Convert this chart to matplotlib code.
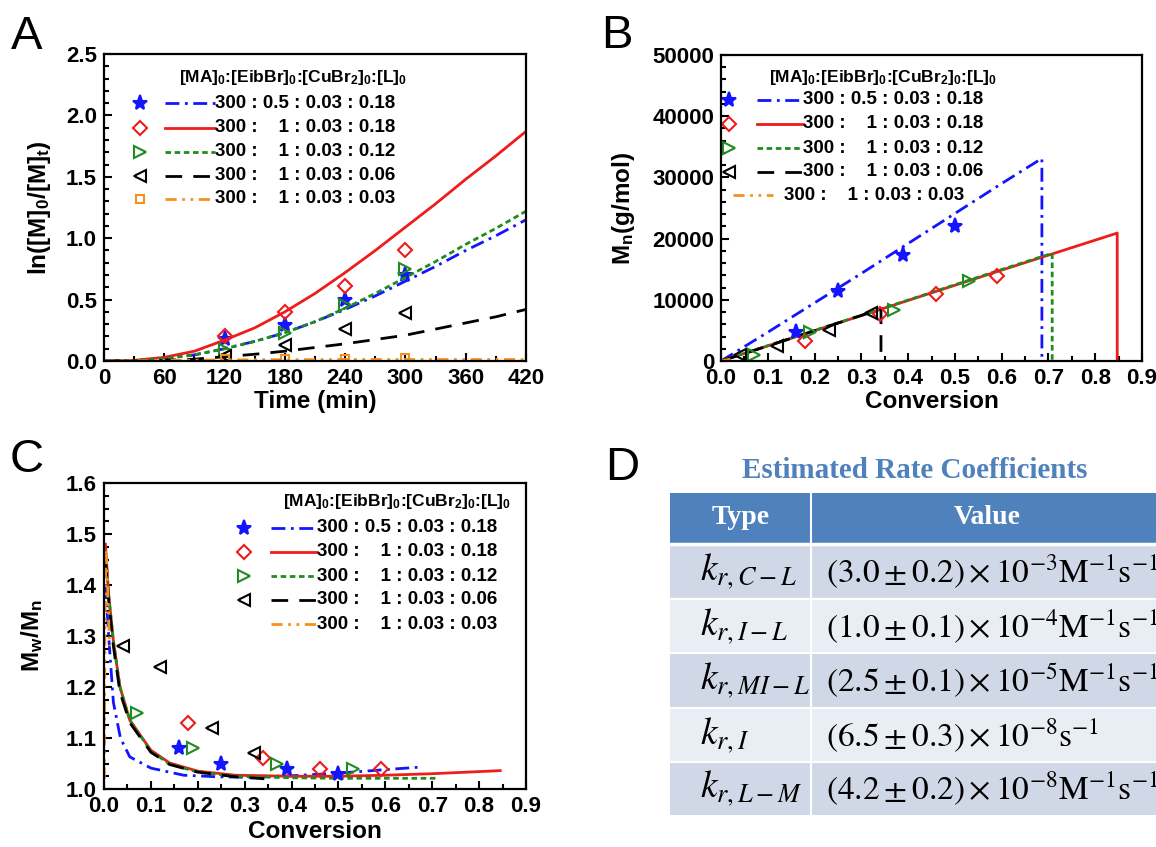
import matplotlib
matplotlib.use('Agg')
import matplotlib.pyplot as plt
from matplotlib.patches import Rectangle
from matplotlib.ticker import MultipleLocator

plt.rcParams['font.family'] = ['Liberation Sans', 'DejaVu Sans']
plt.rcParams['font.weight'] = 'normal'
plt.rcParams['axes.labelweight'] = 'bold'
plt.rcParams['mathtext.fontset'] = 'custom'
plt.rcParams['mathtext.rm'] = 'Liberation Sans:bold'
plt.rcParams['mathtext.it'] = 'Liberation Sans:bold'
plt.rcParams['mathtext.bf'] = 'Liberation Sans:bold'
plt.rcParams['axes.linewidth'] = 1.6

# ---- data ----
ratio_labels = ['300 : 0.5 : 0.03 : 0.18', '300 :    1 : 0.03 : 0.18',
                '300 :    1 : 0.03 : 0.12', '300 :    1 : 0.03 : 0.06',
                '300 :    1 : 0.03 : 0.03']
legend_title = r'[MA]$_0$:[EibBr]$_0$:[CuBr$_2$]$_0$:[L]$_0$'

# panel A: ln([M]0/[M]t) vs time
t_exp = [120, 180, 240, 300]
lnA_exp = [
    [0.18, 0.29, 0.50, 0.70],
    [0.20, 0.40, 0.61, 0.90],
    [0.09, 0.23, 0.46, 0.75],
    [0.04, 0.13, 0.26, 0.39],
    [0.02, 0.02, 0.02, 0.025],
]
t_fit = [0, 30, 60, 90, 120, 150, 180, 210, 240, 270, 300, 330, 360, 390, 420]
lnA_fit = [
    [0, 0.003, 0.02, 0.05, 0.10, 0.16, 0.23, 0.32, 0.42, 0.53, 0.65, 0.77, 0.90, 1.02, 1.15],
    [0, 0.005, 0.03, 0.08, 0.17, 0.27, 0.40, 0.55, 0.72, 0.90, 1.09, 1.28, 1.48, 1.67, 1.87],
    [0, 0.003, 0.02, 0.05, 0.10, 0.16, 0.23, 0.32, 0.43, 0.55, 0.68, 0.81, 0.95, 1.08, 1.22],
    [0, 0.0, 0.005, 0.015, 0.035, 0.055, 0.08, 0.11, 0.14, 0.175, 0.21, 0.26, 0.31, 0.36, 0.42],
    [0, 0.002, 0.005, 0.007, 0.009, 0.010, 0.011, 0.011, 0.012, 0.012, 0.012, 0.012, 0.012, 0.012, 0.012],
]

# panel B: Mn vs conversion
convB_exp = [
    [0.16, 0.25, 0.39, 0.50],
    [0.18, 0.34, 0.46, 0.59],
    [0.07, 0.19, 0.37, 0.53],
    [0.04, 0.12, 0.23, 0.32],
]
Mn_exp = [
    [4800, 11400, 17400, 22000],
    [3200, 7600, 10900, 13900],
    [1000, 4800, 8400, 13000],
    [1000, 2400, 5100, 7900],
]
convB_fit = [
    [0, 0.1, 0.2, 0.3, 0.4, 0.5, 0.6, 0.686, 0.686],
    [0, 0.2, 0.4, 0.6, 0.847, 0.847],
    [0, 0.2, 0.4, 0.6, 0.708, 0.708],
    [0, 0.1, 0.2, 0.342, 0.342],
    [0, 0.01, 0.02],
]
Mn_fit = [
    [0, 4700, 9500, 14300, 19200, 24100, 29000, 33100, 0],
    [0, 4950, 9900, 14850, 20900, 0],
    [0, 5000, 9950, 14950, 17600, 0],
    [0, 2450, 4950, 8500, 0],
    [0, 150, 300],
]

# panel C: PDI vs conversion
PDI_exp = [
    [1.08, 1.05, 1.04, 1.03],
    [1.13, 1.06, 1.04, 1.04],
    [1.15, 1.08, 1.05, 1.04],
    [1.28, 1.24, 1.12, 1.07],
]
convC_fit = [
    [0.003, 0.01, 0.02, 0.035, 0.055, 0.1, 0.17, 0.24, 0.3, 0.4, 0.5, 0.6, 0.676],
    [0.003, 0.01, 0.02, 0.034, 0.055, 0.1, 0.14, 0.2, 0.28, 0.4, 0.5, 0.6, 0.7, 0.845],
    [0.003, 0.01, 0.02, 0.034, 0.055, 0.1, 0.14, 0.2, 0.28, 0.4, 0.5, 0.6, 0.71],
    [0.003, 0.01, 0.02, 0.034, 0.055, 0.1, 0.14, 0.2, 0.28, 0.342],
    [0.0005, 0.002, 0.004, 0.007, 0.010, 0.012],
]
PDI_fit = [
    [1.40, 1.30, 1.17, 1.10, 1.063, 1.041, 1.027, 1.024, 1.023, 1.026, 1.031, 1.038, 1.043],
    [1.48, 1.38, 1.29, 1.20, 1.135, 1.076, 1.051, 1.035, 1.027, 1.025, 1.025, 1.027, 1.030, 1.036],
    [1.47, 1.38, 1.29, 1.20, 1.135, 1.074, 1.049, 1.033, 1.025, 1.022, 1.021, 1.021, 1.021],
    [1.45, 1.37, 1.28, 1.19, 1.13, 1.072, 1.048, 1.033, 1.024, 1.020],
    [1.02, 1.30, 1.47, 1.42, 1.33, 1.28],
]

# panel D: table
table_title = 'Estimated Rate Coefficients'
table_header = ['Type', 'Value']
k_types = [r'$k_{r,C-L}$', r'$k_{r,I-L}$', r'$k_{r,MI-L}$', r'$k_{r,I}$', r'$k_{r,L-M}$']
k_values = [
    r'$\left(3.0\pm0.2\right)\times10^{-3}\mathrm{M}^{-1}\mathrm{s}^{-1}$',
    r'$\left(1.0\pm0.1\right)\times10^{-4}\mathrm{M}^{-1}\mathrm{s}^{-1}$',
    r'$\left(2.5\pm0.1\right)\times10^{-5}\mathrm{M}^{-1}\mathrm{s}^{-1}$',
    r'$\left(6.5\pm0.3\right)\times10^{-8}\mathrm{s}^{-1}$',
    r'$\left(4.2\pm0.2\right)\times10^{-8}\mathrm{M}^{-1}\mathrm{s}^{-1}$',
]

# ---- styles ----
colors = ['#1414ff', '#ee1c1c', '#1f8c1f', '#000000', '#f7901e']
markers = ['*', 'D', '>', '<', 's']
msizes = [11, 7.5, 8, 8, 6]
lstyles = [(0, (5, 2, 1, 2)), '-', (0, (2, 1.3)), (0, (6, 4)), (0, (4, 2, 1, 2, 1, 2))]

W, H = 1156, 847
fig = plt.figure(figsize=(W / 100, H / 100), dpi=100)


def axes_px(l, t, r, b):
    return fig.add_axes([l / W, 1 - b / H, (r - l) / W, (b - t) / H])


def style_axes(ax, xt, xfmt, yt, yfmt, xminor, yminor):
    ax.set_xticks(xt)
    ax.set_xticklabels([xfmt.format(v) for v in xt], fontweight='bold', fontsize=16)
    ax.set_yticks(yt)
    ax.set_yticklabels([yfmt.format(v) for v in yt], fontweight='bold', fontsize=16)
    ax.xaxis.set_minor_locator(MultipleLocator(xminor))
    ax.yaxis.set_minor_locator(MultipleLocator(yminor))
    ax.tick_params(which='both', direction='in', top=False, right=False, width=1.5)
    ax.tick_params(which='major', length=6, pad=5)
    ax.tick_params(which='minor', length=3.5)


def marker_kw(i):
    fc = colors[i] if i == 0 else 'none'
    return dict(marker=markers[i], ms=msizes[i], mfc=fc, mec=colors[i], mew=1.5,
                ls='none')


def draw_key(ax, title_xy, rows_y, mk_x, line_x, text_x, with_marker, override=None):
    ax.text(title_xy[0], title_xy[1], legend_title, transform=ax.transAxes,
            ha='center', va='center', fontsize=12.5, fontweight='bold')
    for i in range(5):
        lx, tx = line_x, text_x
        if override and i in override:
            lx, tx = override[i]
        y = rows_y[i]
        if with_marker[i]:
            ax.plot([mk_x], [y], transform=ax.transAxes, clip_on=False, **marker_kw(i))
        ax.plot(lx, [y, y], transform=ax.transAxes, color=colors[i], lw=2,
                ls=lstyles[i], clip_on=False)
        ax.text(tx, y, ratio_labels[i], transform=ax.transAxes, ha='left',
                va='center', fontsize=13.5, fontweight='bold')


# ---- panel A ----
axA = axes_px(104, 54, 526, 361)
for i in range(5):
    axA.plot(t_fit, lnA_fit[i], color=colors[i], lw=2, ls=lstyles[i])
    axA.plot(t_exp, lnA_exp[i], **marker_kw(i))
style_axes(axA, list(range(0, 421, 60)), '{:d}', [0, 0.5, 1.0, 1.5, 2.0, 2.5], '{:.1f}', 30, 0.1)
axA.set_xlim(0, 420)
axA.set_ylim(0, 2.5)
axA.set_xlabel('Time (min)', fontsize=17.5)
axA.set_ylabel(r'ln([M]$_0$/[M]$_t$)', fontsize=17.5)
axA.xaxis.set_label_coords(0.5, -0.095)
axA.yaxis.set_label_coords(-0.12, 0.5)
draw_key(axA, (0.448, 0.922), [0.840, 0.759, 0.681, 0.603, 0.528],
         0.085, [0.145, 0.263], 0.263, [True] * 5)

conv_ticks = [0.0, 0.1, 0.2, 0.3, 0.4, 0.5, 0.6, 0.7, 0.8, 0.9]

# ---- panel B ----
axB = axes_px(721, 55, 1142, 361)
for i in range(5):
    axB.plot(convB_fit[i], Mn_fit[i], color=colors[i], lw=2, ls=lstyles[i])
for i in range(4):
    axB.plot(convB_exp[i], Mn_exp[i], **marker_kw(i))
style_axes(axB, conv_ticks, '{:.1f}', list(range(0, 50001, 10000)), '{:d}', 0.05, 2000)
axB.set_xlim(0, 0.9)
axB.set_ylim(0, 50000)
axB.set_xlabel('Conversion', fontsize=17.5)
axB.set_ylabel(r'M$_\mathrm{n}$(g/mol)', fontsize=17.5)
axB.xaxis.set_label_coords(0.5, -0.095)
axB.yaxis.set_label_coords(-0.2, 0.5)
draw_key(axB, (0.385, 0.928), [0.853, 0.775, 0.696, 0.618, 0.542],
         0.019, [0.086, 0.195], 0.195, [True, True, True, True, False],
         override={4: ([0.029, 0.124], 0.150)})

# ---- panel C ----
axC = axes_px(104, 483, 526, 789)
for i in range(5):
    axC.plot(convC_fit[i], PDI_fit[i], color=colors[i], lw=2, ls=lstyles[i])
for i in range(4):
    axC.plot(convB_exp[i], PDI_exp[i], **marker_kw(i))
style_axes(axC, conv_ticks, '{:.1f}', [1.0, 1.1, 1.2, 1.3, 1.4, 1.5, 1.6], '{:.1f}', 0.05, 0.025)
axC.set_xlim(0, 0.9)
axC.set_ylim(1.0, 1.6)
axC.set_xlabel('Conversion', fontsize=17.5)
axC.set_ylabel(r'M$_\mathrm{w}$/M$_\mathrm{n}$', fontsize=17.5)
axC.xaxis.set_label_coords(0.5, -0.10)
axC.yaxis.set_label_coords(-0.14, 0.5)
draw_key(axC, (0.694, 0.938), [0.853, 0.775, 0.696, 0.618, 0.539],
         0.332, [0.396, 0.505], 0.505, [True, True, True, True, False])

# ---- panel D: table ----
axD = fig.add_axes([0, 0, 1, 1], zorder=-1)
axD.set_xlim(0, W)
axD.set_ylim(H, 0)
axD.axis('off')
tab_l, tab_div, tab_r = 670, 811, 1160
row_edges = [493, 544, 599, 653, 708, 762, 815]
head_col = '#4f81bd'
row_cols = ['#d0d8e8', '#e9edf4']
axD.add_patch(Rectangle((tab_l, row_edges[0]), tab_r - tab_l, row_edges[1] - row_edges[0],
                        facecolor=head_col, edgecolor='none'))
for j in range(5):
    y0, y1 = row_edges[j + 1], row_edges[j + 2]
    axD.add_patch(Rectangle((tab_l, y0), tab_r - tab_l, y1 - y0,
                            facecolor=row_cols[j % 2], edgecolor='none'))
    axD.plot([tab_l, tab_r], [y0, y0], color='white', lw=1.5 if j else 2.5)
axD.plot([tab_div, tab_div], [row_edges[0], row_edges[-1]], color='white', lw=1.5)
axD.text(915, 471, table_title, ha='center', va='center', color=head_col,
         family='Liberation Serif', fontsize=21, fontweight='bold')
axD.text((tab_l + tab_div) / 2, 517, table_header[0], ha='center', va='center',
         color='white', family='Liberation Serif', fontsize=20, fontweight='bold')
axD.text(987, 517, table_header[1], ha='center', va='center',
         color='white', family='Liberation Serif', fontsize=20, fontweight='bold')
for j in range(5):
    yc = (row_edges[j + 1] + row_edges[j + 2]) / 2
    axD.text(700, yc, k_types[j], ha='left', va='center', fontsize=27,
             math_fontfamily='stix')
    axD.text(826, yc, k_values[j], ha='left', va='center', fontsize=24,
             math_fontfamily='stix')

# panel letters
for letter, (px, py) in zip('ABCD', [(27, 37), (617, 36), (27, 460), (622, 468)]):
    fig.text(px / W, 1 - py / H, letter, ha='center', va='center', fontsize=34)

fig.savefig('out.png', dpi=100)
